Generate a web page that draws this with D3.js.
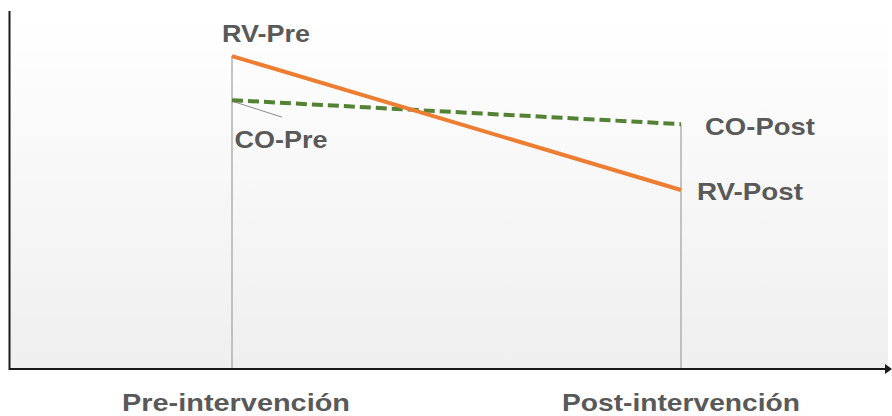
<!DOCTYPE html>
<html>
<head>
<meta charset="utf-8">
<script src="https://cdn.jsdelivr.net/npm/d3@7"></script>
<style>
html,body{margin:0;padding:0;background:#fff;}
svg{display:block;}
text{font-family:"Liberation Sans",Arial,sans-serif;font-weight:bold;fill:#595959;}
</style>
</head>
<body>
<svg id="chart" width="892" height="416"></svg>
<script>
const categories = ["Pre-intervención", "Post-intervención"];
const rvValues = [87.4, 50.0];
const coValues = [75.1, 68.4];
const seriesLabels = {rv: ["RV-Pre", "RV-Post"], co: ["CO-Pre", "CO-Post"]};

const W = 892, H = 416;
const svg = d3.select("#chart");
const defs = svg.append("defs");
const grad = defs.append("linearGradient").attr("id","bg").attr("x1",0).attr("y1",0).attr("x2",0).attr("y2",1);
grad.append("stop").attr("offset","0%").attr("stop-color","#ffffff");
grad.append("stop").attr("offset","100%").attr("stop-color","#efefef");

const x = d3.scalePoint().domain(categories).range([232, 681]);
const y = d3.scaleLinear().domain([0, 100]).range([369, 11]);

// background
svg.append("rect").attr("x",10).attr("y",11).attr("width",878).attr("height",358).attr("fill","url(#bg)");

// drop lines
svg.selectAll("line.drop").data(categories).enter().append("line")
  .attr("class","drop")
  .attr("x1",d=>x(d)).attr("x2",d=>x(d))
  .attr("y1",(d,i)=>y(Math.max(rvValues[i],coValues[i])))
  .attr("y2",y(0))
  .attr("stroke","#a6a6a6").attr("stroke-width",1.3);

// axes
const xAxis = d3.axisBottom(x).tickSize(0).tickFormat(()=> "");
const gx = svg.append("g").attr("transform",`translate(0,${y(0)})`).call(xAxis);
gx.select(".domain").remove();
svg.append("line").attr("x1",9).attr("x2",886).attr("y1",y(0)).attr("y2",y(0)).attr("stroke","#1a1a1a").attr("stroke-width",2);
svg.append("path").attr("d",`M885,${y(0)-5}L892,${y(0)}L885,${y(0)+5}Z`).attr("fill","#1a1a1a");
svg.append("line").attr("x1",9.5).attr("x2",9.5).attr("y1",11).attr("y2",y(0)+1).attr("stroke","#1a1a1a").attr("stroke-width",2);

// category labels
svg.selectAll("text.cat").data(categories).enter().append("text")
  .attr("class","cat")
  .attr("x",(d,i)=> x(d) + (i===0?4:0))
  .attr("y",411)
  .attr("text-anchor","middle")
  .attr("font-size",24)
  .attr("textLength",(d,i)=> i===0?228:238)
  .attr("lengthAdjust","spacingAndGlyphs")
  .text(d=>d);

// leader line for CO-Pre
svg.append("line")
  .attr("x1",x(categories[0])).attr("y1",y(coValues[0])+1)
  .attr("x2",x(categories[0])+50).attr("y2",y(coValues[0])+17)
  .attr("stroke","#8c8c8c").attr("stroke-width",1);

// lines
const line = d3.line().x((d,i)=>x(categories[i])).y(d=>y(d));
svg.append("path").datum(coValues).attr("d",line)
  .attr("fill","none").attr("stroke","#548235").attr("stroke-width",4)
  .attr("stroke-dasharray","11,5");
svg.append("path").datum(rvValues).attr("d",line)
  .attr("fill","none").attr("stroke","#ED7D31").attr("stroke-width",4);

// point labels
const lbl = [
  {t: seriesLabels.rv[0], i:0, v:rvValues[0], dx:34, dy:-14, len:88},
  {t: seriesLabels.rv[1], i:1, v:rvValues[1], dx:69, dy:10, len:106},
  {t: seriesLabels.co[0], i:0, v:coValues[0], dx:49, dy:48, len:93},
  {t: seriesLabels.co[1], i:1, v:coValues[1], dx:79, dy:11, len:110}
];
svg.selectAll("text.pl").data(lbl).enter().append("text")
  .attr("class","pl")
  .attr("x",d=>x(categories[d.i])+d.dx)
  .attr("y",d=>y(d.v)+d.dy)
  .attr("text-anchor","middle")
  .attr("font-size",24)
  .attr("textLength",d=>d.len)
  .attr("lengthAdjust","spacingAndGlyphs")
  .text(d=>d.t);
</script>
</body>
</html>
